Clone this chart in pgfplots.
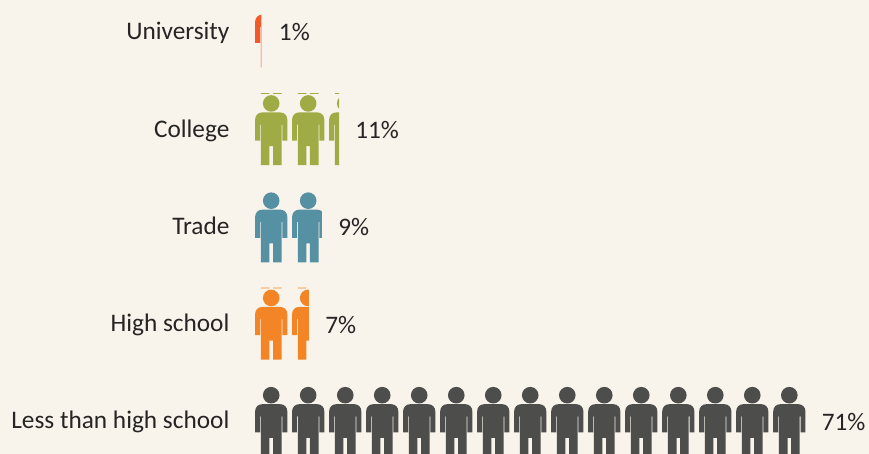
\documentclass[border=0pt]{standalone}
\usepackage{fontspec}
\setmainfont{Carlito}
\usepackage{pgfplots}
\pgfplotsset{compat=1.18}
\definecolor{bgc}{RGB}{248,243,235}
\definecolor{cuni}{RGB}{241,90,41}
\definecolor{ccol}{RGB}{159,171,68}
\definecolor{ctra}{RGB}{85,144,163}
\definecolor{chs}{RGB}{244,133,38}
\definecolor{cless}{RGB}{77,77,75}
\definecolor{ctxt}{RGB}{38,36,36}
% person silhouette, origin at its centre, 1pt = 1 reference pixel
\newcommand\personshape{%
  \pgfpathcircle{\pgfpoint{0pt}{26.8pt}}{8.3pt}%
  \pgfpathmoveto{\pgfpoint{-16.1pt}{-10.4pt}}%
  \pgfpathlineto{\pgfpoint{-16.1pt}{10.5pt}}%
  \pgfpathcurveto{\pgfpoint{-16.1pt}{15pt}}{\pgfpoint{-13pt}{17.8pt}}{\pgfpoint{-9pt}{17.8pt}}%
  \pgfpathlineto{\pgfpoint{9pt}{17.8pt}}%
  \pgfpathcurveto{\pgfpoint{13pt}{17.8pt}}{\pgfpoint{16.1pt}{15pt}}{\pgfpoint{16.1pt}{10.5pt}}%
  \pgfpathlineto{\pgfpoint{16.1pt}{-10.4pt}}%
  \pgfpathlineto{\pgfpoint{11.2pt}{-10.4pt}}%
  \pgfpathlineto{\pgfpoint{11.2pt}{5.5pt}}%
  \pgfpathlineto{\pgfpoint{10.4pt}{5.5pt}}%
  \pgfpathlineto{\pgfpoint{10.4pt}{-34.8pt}}%
  \pgfpathlineto{\pgfpoint{1.8pt}{-34.8pt}}%
  \pgfpathlineto{\pgfpoint{1.8pt}{-16pt}}%
  \pgfpathlineto{\pgfpoint{-1.8pt}{-16pt}}%
  \pgfpathlineto{\pgfpoint{-1.8pt}{-34.8pt}}%
  \pgfpathlineto{\pgfpoint{-10.4pt}{-34.8pt}}%
  \pgfpathlineto{\pgfpoint{-10.4pt}{5.5pt}}%
  \pgfpathlineto{\pgfpoint{-11.2pt}{5.5pt}}%
  \pgfpathlineto{\pgfpoint{-11.2pt}{-10.4pt}}%
  \pgfpathclose
}
% feet of the tile above, showing as two thin dashes over the head
\newcommand\persondash{%
  \pgfpathrectangle{\pgfpoint{-10.4pt}{36.4pt}}{\pgfpoint{8.6pt}{0.7pt}}%
  \pgfpathrectangle{\pgfpoint{1.8pt}{36.4pt}}{\pgfpoint{8.6pt}{0.7pt}}%
}
\newcommand\cliprect[1]{\pgfpathrectangle{\pgfpoint{-16.2pt}{-50pt}}{\pgfpoint{#1}{100pt}}\pgfusepath{clip}}
\pgfdeclareplotmark{person}{\personshape\pgfusepathqfill}
\pgfdeclareplotmark{persondash}{\personshape\persondash\pgfusepathqfill}
\pgfdeclareplotmark{personUni}{\pgfscope\cliprect{6.3pt}\personshape\pgfusepathqfill\endpgfscope}
\pgfdeclareplotmark{personCol}{\pgfscope\cliprect{10pt}\personshape\persondash\pgfusepathqfill\endpgfscope}
\pgfdeclareplotmark{personTra}{\pgfscope\cliprect{29.8pt}\personshape\pgfusepathqfill\endpgfscope}
\pgfdeclareplotmark{personHS}{\pgfscope\cliprect{16.8pt}\personshape\persondash\pgfusepathqfill\endpgfscope}
\begin{document}
\begin{tikzpicture}
\fill[bgc] (0,0) rectangle (869pt,454pt);
\useasboundingbox (0,0) rectangle (869pt,454pt);
\begin{axis}[
  at={(255pt,0pt)}, anchor=south west,
  scale only axis, width=614pt, height=454pt,
  xmin=0, xmax=79.53, ymin=-0.329, ymax=4.339,
  axis line style={draw=none}, clip=false,
  xtick=\empty, ytick={0,1,2,3,4},
  yticklabels={Less than high school,High school,Trade,College,University},
  major tick length=0pt,
  yticklabel style={font=\fontsize{25.3}{30}\selectfont, text=ctxt, inner sep=0pt, anchor=east, xshift=-25.4pt, yshift=-1pt, text depth=5.6pt},
  every node near coord/.append style={font=\fontsize{25.2}{30}\selectfont, text=ctxt, anchor=west, inner sep=0pt},
]
% whole figures
\addplot[only marks, mark=person, mark options={fill=cless,draw=none,solid}] coordinates {
 (2.10,0)(6.89,0)(11.69,0)(16.48,0)(21.27,0)(26.07,0)(30.86,0)(35.65,0)(40.45,0)(45.24,0)(50.03,0)(54.83,0)(59.62,0)(64.41,0)(69.21,0)};
\addplot[only marks, mark=persondash, mark options={fill=chs,draw=none,solid}] coordinates {(2.10,1)};
\addplot[only marks, mark=person, mark options={fill=ctra,draw=none,solid}] coordinates {(2.10,2)};
\addplot[only marks, mark=persondash, mark options={fill=ccol,draw=none,solid}] coordinates {(2.10,3)(6.89,3)};
% cut figures
\addplot[only marks, mark=personHS, mark options={fill=chs,draw=none,solid}] coordinates {(6.89,1)};
\addplot[only marks, mark=personTra, mark options={fill=ctra,draw=none,solid}] coordinates {(6.89,2)};
\addplot[only marks, mark=personCol, mark options={fill=ccol,draw=none,solid}] coordinates {(11.69,3)};
\addplot[only marks, mark=personUni, mark options={fill=cuni,draw=none,solid}] coordinates {(2.10,4.005)};
% value labels
\addplot[only marks, mark=none, draw=none, point meta=explicit symbolic, nodes near coords] coordinates {
 (3.08,4.008)[1\%] (12.97,3)[11\%] (10.77,2)[9\%] (9.1,1)[7\%] (73.4,0)[71\%]};
\end{axis}
\end{tikzpicture}
\end{document}
